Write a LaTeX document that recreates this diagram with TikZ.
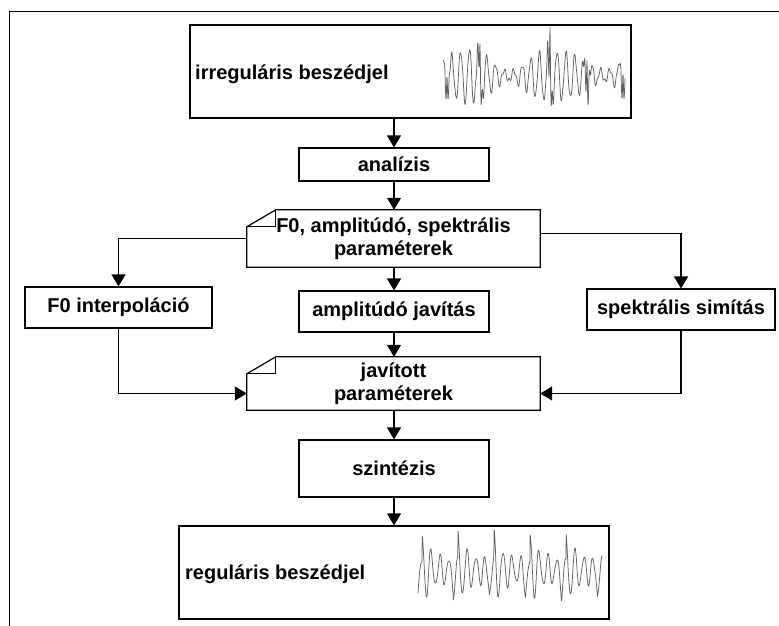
\documentclass[tikz,border=0pt]{standalone}
\usepackage{fontspec}
\setmainfont{Liberation Sans}
\usetikzlibrary{arrows.meta}
\tikzset{
  box/.style={draw, line width=1.2pt, rectangle, inner sep=0pt, font=\bfseries\fontsize{20}{23}\selectfont, align=center},
  docnode/.style={rectangle, inner sep=0pt, font=\bfseries\fontsize{20}{23}\selectfont, align=center},
  docline/.style={draw, line width=1.2pt, line join=miter},
  arr/.style={line width=1.2pt, -{Triangle[width=14pt,length=12pt]}},
  lbl/.style={inner sep=0pt, font=\bfseries\fontsize{20}{23}\selectfont},
  wave/.style={line width=0.75pt, gray!75!black, line join=round}
}
\begin{document}
\begin{tikzpicture}[x=1pt,y=-1pt]
\useasboundingbox (0,0) rectangle (779,626);
% outer frame (only top and left visible)
\coordinate (fbl) at (9,626);
\coordinate (ftl) at (9,12);
\coordinate (ftr) at (779,12);
\draw[line width=1pt] (fbl) -- (ftl) -- (ftr);

% nodes
\node[box, minimum width=441pt, minimum height=93pt] (top) at (410.5,71.5) {};
\node[lbl, anchor=base west] (toplbl) at (195,79) {irreguláris beszédjel};
\node[box, minimum width=190pt, minimum height=33pt] (ana) at (394,164.5) {analízis};
\node[docnode, minimum width=293pt, minimum height=57pt] (doca) at (393.5,238.5) {F0, amplitúdó, spektrális\\paraméterek};
\node[box, minimum width=187pt, minimum height=41pt] (f0) at (118.5,307.5) {F0 interpoláció};
\node[box, minimum width=190pt, minimum height=41pt] (amp) at (394,311.5) {amplitúdó javítás};
\node[box, minimum width=188pt, minimum height=41pt] (spk) at (681,309.5) {spektrális simítás};
\node[docnode, minimum width=293pt, minimum height=53pt] (docb) at (393.5,383.5) {javított\\paraméterek};
\node[box, minimum width=190pt, minimum height=57pt] (szin) at (394,468.5) {szintézis};
\node[box, minimum width=430pt, minimum height=93pt] (bot) at (394,572.5) {};
\node[lbl, anchor=base west] (botlbl) at (185,579) {reguláris beszédjel};

% document shapes with folded corner
\foreach \d in {doca,docb}{
  \draw[docline] ([yshift=-17pt]\d.north west) -- ([xshift=29pt]\d.north west) -- (\d.north east) -- (\d.south east) -- (\d.south west) -- cycle;
  \draw[line width=1.2pt] ([xshift=29pt]\d.north west) -- ++(0,17) -- ([yshift=-17pt]\d.north west);
}

% waveforms
% irregular speech signal
\draw[wave] plot[samples=700, domain=0:182] ({443+\x},
  {76 - (17 + 10*sin(\x*4))*cos(\x*41) - 5*sin(\x*23)*cos(\x*71)
   - 18*exp(-min(abs(\x-4),15)/1.8)*cos(min(abs(\x-4),15)*150)
   - 28*exp(-min(abs(\x-37),15)/1.8)*cos(min(abs(\x-37),15)*150)
   - 42*exp(-min(abs(\x-107),15)/1.6)*cos(min(abs(\x-107),15)*150)
   - 28*exp(-min(abs(\x-144),15)/1.8)*cos(min(abs(\x-144),15)*150)
   - 20*exp(-min(abs(\x-180),15)/1.8)*cos(min(abs(\x-180),15)*150)});
% regular speech signal
\draw[wave] plot[samples=700, domain=0:184] ({418+\x},
  {570 - (12 + 26*exp(-mod(\x+32,36)/7))*cos(mod(\x+32,36)*40)
   + 16*exp(-abs(mod(\x+32,36)-31.5)/1.5) - 3*sin(\x*67)});

% connectors
\draw[arr] (ana.north |- top.south) -- (ana.north);
\draw[arr] (ana.south) -- (ana.south |- doca.north);
\draw[arr] (doca.west) -| (f0.north);
\draw[arr] ([yshift=5pt]doca.east) -| (spk.north);
\draw[arr] (amp.north |- doca.south) -- (amp.north);
\draw[arr] (amp.south) -- (amp.south |- docb.north);
\draw[arr] (f0.south) |- ([yshift=-10pt]docb.west);
\draw[arr] (spk.south) |- ([yshift=-10pt]docb.east);
\draw[arr] (szin.north |- docb.south) -- (szin.north);
\draw[arr] (szin.south) -- (bot.north);
\end{tikzpicture}
\end{document}
